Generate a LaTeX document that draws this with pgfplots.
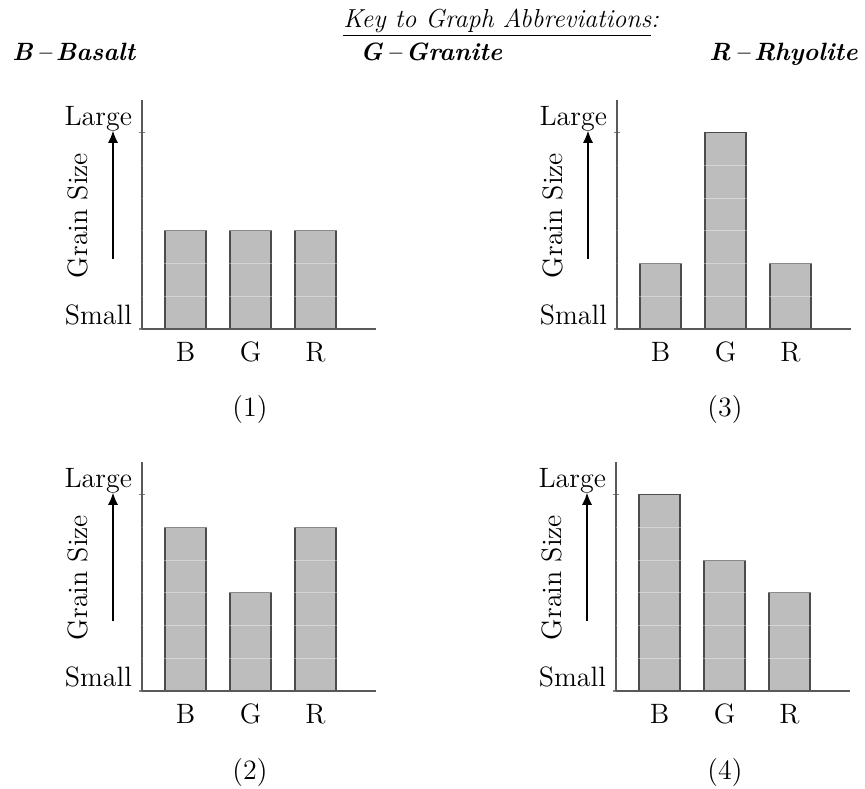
\documentclass[border=0pt]{standalone}
\usepackage{pgfplots}
\pgfplotsset{compat=1.18}
\usetikzlibrary{arrows.meta}
\definecolor{barfill}{HTML}{BDBDBD}
\newcommand{\lbl}{\fontsize{14}{16}\selectfont}
\newcommand{\hdr}{\fontsize{12.5}{15}\selectfont\bfseries\itshape}
\pgfplotsset{
  panel/.style={
    scale only axis, width=117pt, height=114.5pt,
    xmin=-0.67, xmax=2.93, ymin=0, ymax=7,
    axis x line=bottom, axis y line=left,
    axis line style={-, draw=black!65, line width=0.9pt},
    xtick={0,1,2}, xticklabels={B,G,R}, xtick style={draw=none},
    ytick={0,6}, yticklabels={Small,Large},
    ytick style={draw=black!50, line width=0.6pt}, major tick length=3pt, tick align=center,
    yticklabel style={yshift=7pt},
    tick label style={font=\lbl},
    extra y ticks={1,2,3,4,5}, extra y tick labels={},
    extra y tick style={grid=major, major tick length=0pt},
    grid style={white, opacity=0.35, line width=0.6pt},
    axis on top,
    ybar, bar width=20.5pt,
    clip=false,
  },
  barstyle/.style={fill=barfill, draw=black!70, line width=0.6pt},
}
\newcommand{\decor}{%
  \draw[line width=0.6pt, -{Latex[length=6pt,width=5pt]}] (axis cs:-1.116,2.15) -- (axis cs:-1.116,6.06);
  \node[rotate=90, font=\lbl] at (axis cs:-1.655,3.47) {Grain Size};
}
\begin{document}
\begin{tikzpicture}
\useasboundingbox (0,0) rectangle (432.5pt,-394pt);
% headers
\node[anchor=base west, inner sep=0pt, font=\fontsize{13}{15}\selectfont\itshape] at (171.5pt,-13.5pt) {\underline{Key to Graph Abbreviations}:};
\node[anchor=base west, inner sep=0pt, font=\hdr] at (6pt,-30pt) {B\,--\,Basalt};
\node[anchor=base west, inner sep=0pt, font=\hdr] at (180pt,-30pt) {G\,--\,Granite};
\node[anchor=base east, inner sep=0pt, font=\hdr] at (429pt,-30pt) {R\,--\,Rhyolite};
% panel 1
\begin{axis}[panel, at={(71pt,-164.5pt)}, anchor=south west]
\addplot[barstyle] coordinates {(0,3) (1,3) (2,3)};
\decor
\end{axis}
% panel 3
\begin{axis}[panel, at={(308.5pt,-164.5pt)}, anchor=south west]
\addplot[barstyle] coordinates {(0,2) (1,6) (2,2)};
\decor
\end{axis}
% panel 2
\begin{axis}[panel, at={(71pt,-345.5pt)}, anchor=south west]
\addplot[barstyle] coordinates {(0,5) (1,3) (2,5)};
\decor
\end{axis}
% panel 4
\begin{axis}[panel, at={(308pt,-345.5pt)}, anchor=south west]
\addplot[barstyle] coordinates {(0,6) (1,4) (2,3)};
\decor
\end{axis}
% captions
\node[font=\lbl] at (125pt,-205pt) {(1)};
\node[font=\lbl] at (362.5pt,-205pt) {(3)};
\node[font=\lbl] at (125pt,-386pt) {(2)};
\node[font=\lbl] at (362.5pt,-386pt) {(4)};
\end{tikzpicture}
\end{document}
